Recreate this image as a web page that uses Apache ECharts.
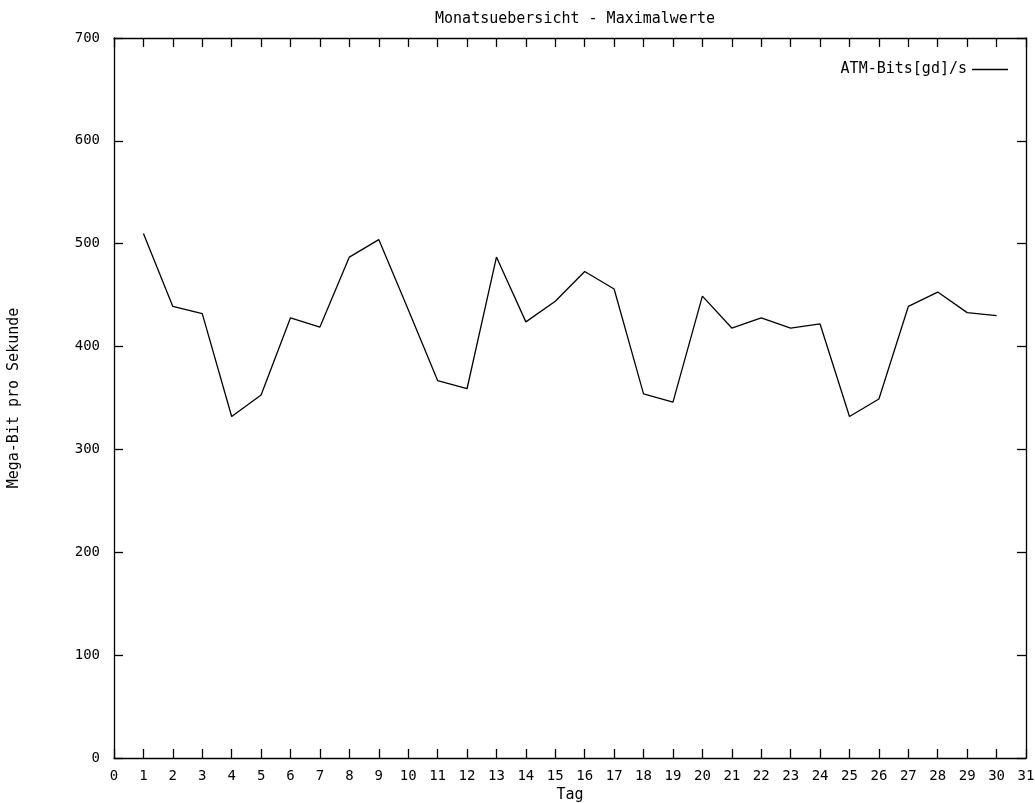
<!DOCTYPE html>
<html>
<head>
<meta charset="utf-8">
<script src="https://cdn.jsdelivr.net/npm/echarts@6/dist/echarts.min.js"></script>
<style>
html,body{margin:0;padding:0;background:#fff;}
#chart{width:1035px;height:803px;}
</style>
</head>
<body>
<div id="chart"></div>
<script>
var days = [1,2,3,4,5,6,7,8,9,10,11,12,13,14,15,16,17,18,19,20,21,22,23,24,25,26,27,28,29,30];
var values = [510,439,432,332,353,428,419,487,504,436,367,359,487,424,444,473,456,354,346,449,418,428,418,422,332,349,439,453,433,430];
var seriesName = 'ATM-Bits[gd]/s';
var titleText = 'Monatsuebersicht - Maximalwerte';
var xName = 'Tag';
var yName = 'Mega-Bit pro Sekunde';

var FONT = 'DejaVu Sans Mono';
var chart = echarts.init(document.getElementById('chart'), null, {renderer:'canvas'});
var pts = days.map(function(d,i){return [d, values[i]];});
var axisLine = {show:true, onZero:false, lineStyle:{color:'#000', width:1.3}};
var tick = {show:true, inside:true, length:9, lineStyle:{color:'#000', width:1.3}};
chart.setOption({
  animation:false,
  backgroundColor:'#fff',
  title:{text:titleText, left:570, textAlign:'center', top:7,
    textStyle:{fontFamily:FONT, fontSize:15, fontWeight:'normal', color:'#000'}},
  legend:{show:true, right:22, top:57, align:'right', itemWidth:36, itemHeight:10,
    textStyle:{fontFamily:FONT, fontSize:15, color:'#000'},
    data:[{name:seriesName, icon:'path://M0,5L36,5L36,6.3L0,6.3Z'}]},
  grid:{left:114, right:9, top:38, bottom:45, containLabel:false, outerBoundsMode:'none'},
  xAxis:[{type:'value', min:0, max:31, interval:1, position:'bottom',
    name:xName, nameLocation:'middle', nameGap:29,
    nameTextStyle:{fontFamily:FONT, fontSize:15, color:'#000'},
    axisLine:axisLine, axisTick:tick, splitLine:{show:false},
    axisLabel:{fontFamily:FONT, fontSize:14, color:'#000', margin:11}},
   {type:'value', min:0, max:31, interval:1, position:'top',
    axisLine:axisLine, axisTick:tick, splitLine:{show:false}, axisLabel:{show:false}}],
  yAxis:[{type:'value', min:0, max:700, interval:100, position:'left',
    name:yName, nameLocation:'middle', nameGap:92,
    nameTextStyle:{fontFamily:FONT, fontSize:15, color:'#000'},
    axisLine:axisLine, axisTick:tick, splitLine:{show:false},
    axisLabel:{fontFamily:FONT, fontSize:14, color:'#000', margin:14}},
   {type:'value', min:0, max:700, interval:100, position:'right',
    axisLine:axisLine, axisTick:tick, splitLine:{show:false}, axisLabel:{show:false}}],
  series:[{name:seriesName, type:'line', data:pts, showSymbol:false, symbol:'none',
    lineStyle:{color:'#000', width:1.3}, itemStyle:{color:'#000'}}]
});
</script>
</body>
</html>
